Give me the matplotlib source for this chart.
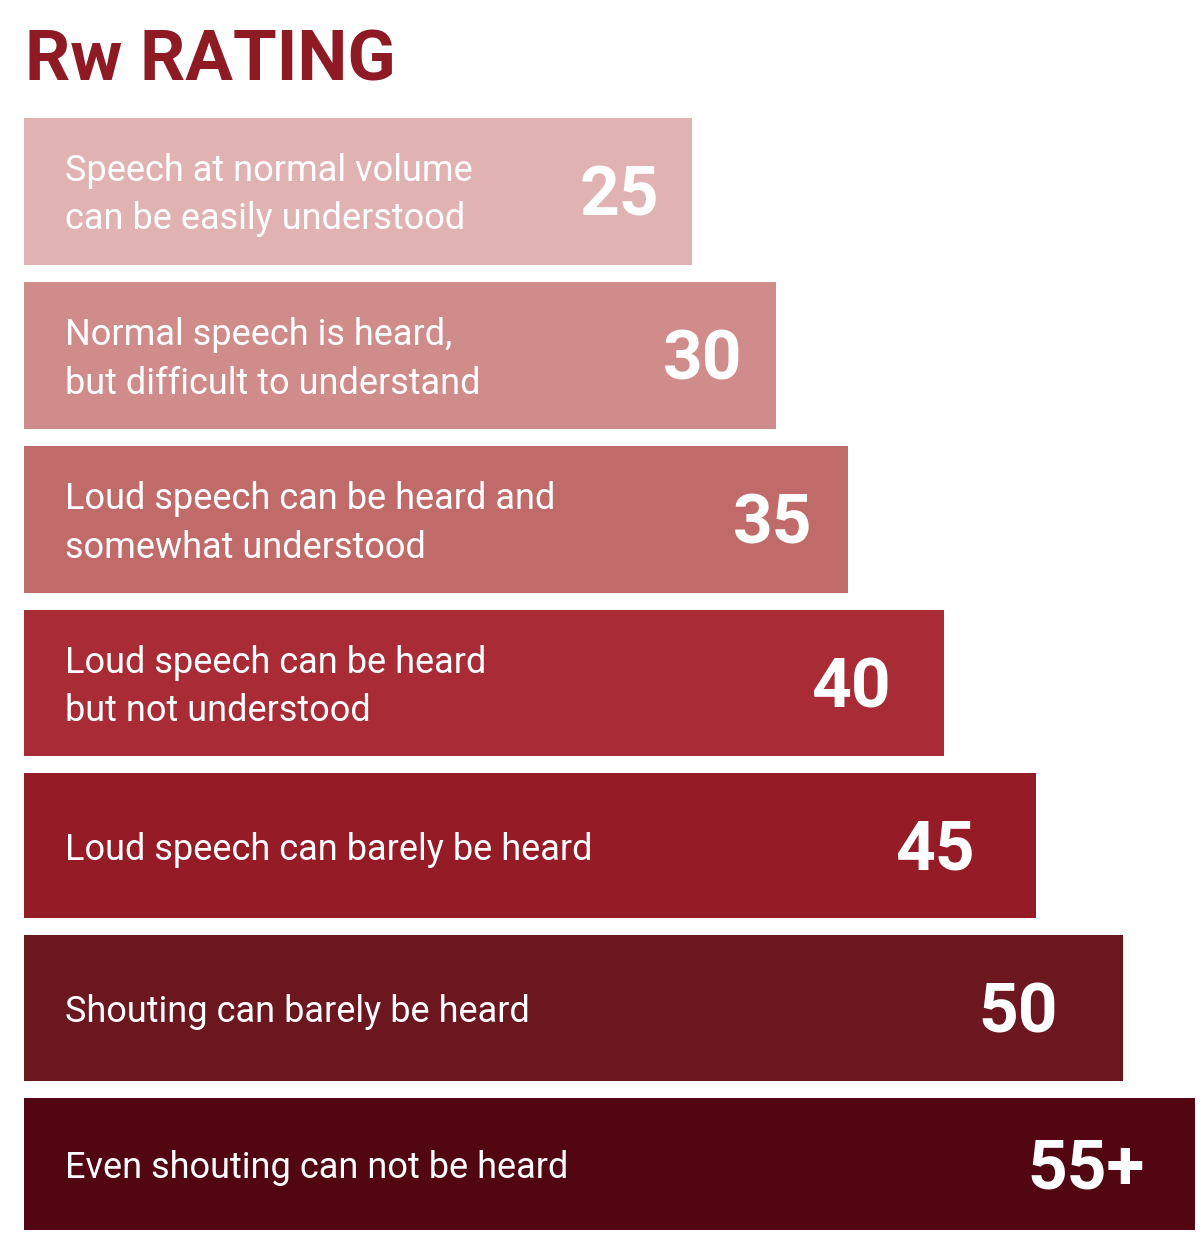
import matplotlib.pyplot as plt

labels = [
    "Speech at normal volume\ncan be easily understood",
    "Normal speech is heard,\nbut difficult to understand",
    "Loud speech can be heard and\nsomewhat understood",
    "Loud speech can be heard\nbut not understood",
    "Loud speech can barely be heard",
    "Shouting can barely be heard",
    "Even shouting can not be heard",
]
ratings = ["25", "30", "35", "40", "45", "50", "55+"]
# bar lengths as drawn in the picture
lengths = [668, 752, 824, 920, 1012, 1099, 1171]
colors = ["#e0b3b2", "#d08c8a", "#c06b69", "#a92b36", "#951b26", "#6c161f", "#510612"]

# layout
centers = [191, 355.5, 519.5, 683, 845.5, 1008, 1164]
heights = [147, 147, 147, 146, 145, 146, 132]
num_offset = [73, 73, 75, 93, 101, 105, 109]

fig = plt.figure(figsize=(12.01, 12.36), dpi=100)
ax = fig.add_axes([0, 0, 1, 1])
ax.set_xlim(0, 1201)
ax.set_ylim(1236, 0)
ax.axis("off")

ax.barh(centers, lengths, height=heights, left=24, color=colors)

for i in range(len(labels)):
    ax.text(65, centers[i] + 4, labels[i], color="white", fontsize=26,
            family="Roboto", va="center", ha="left",
            linespacing=1.46)
    ax.text(24 + lengths[i] - num_offset[i], centers[i] + 6, ratings[i],
            color="white", fontsize=50, fontweight="bold",
            family="Roboto", va="center", ha="center")

ax.text(25, 61, "Rw RATING", color="#8e1a24", fontsize=51, fontweight="bold",
        family="Roboto", va="center", ha="left")

fig.savefig("out.png", dpi=100)
